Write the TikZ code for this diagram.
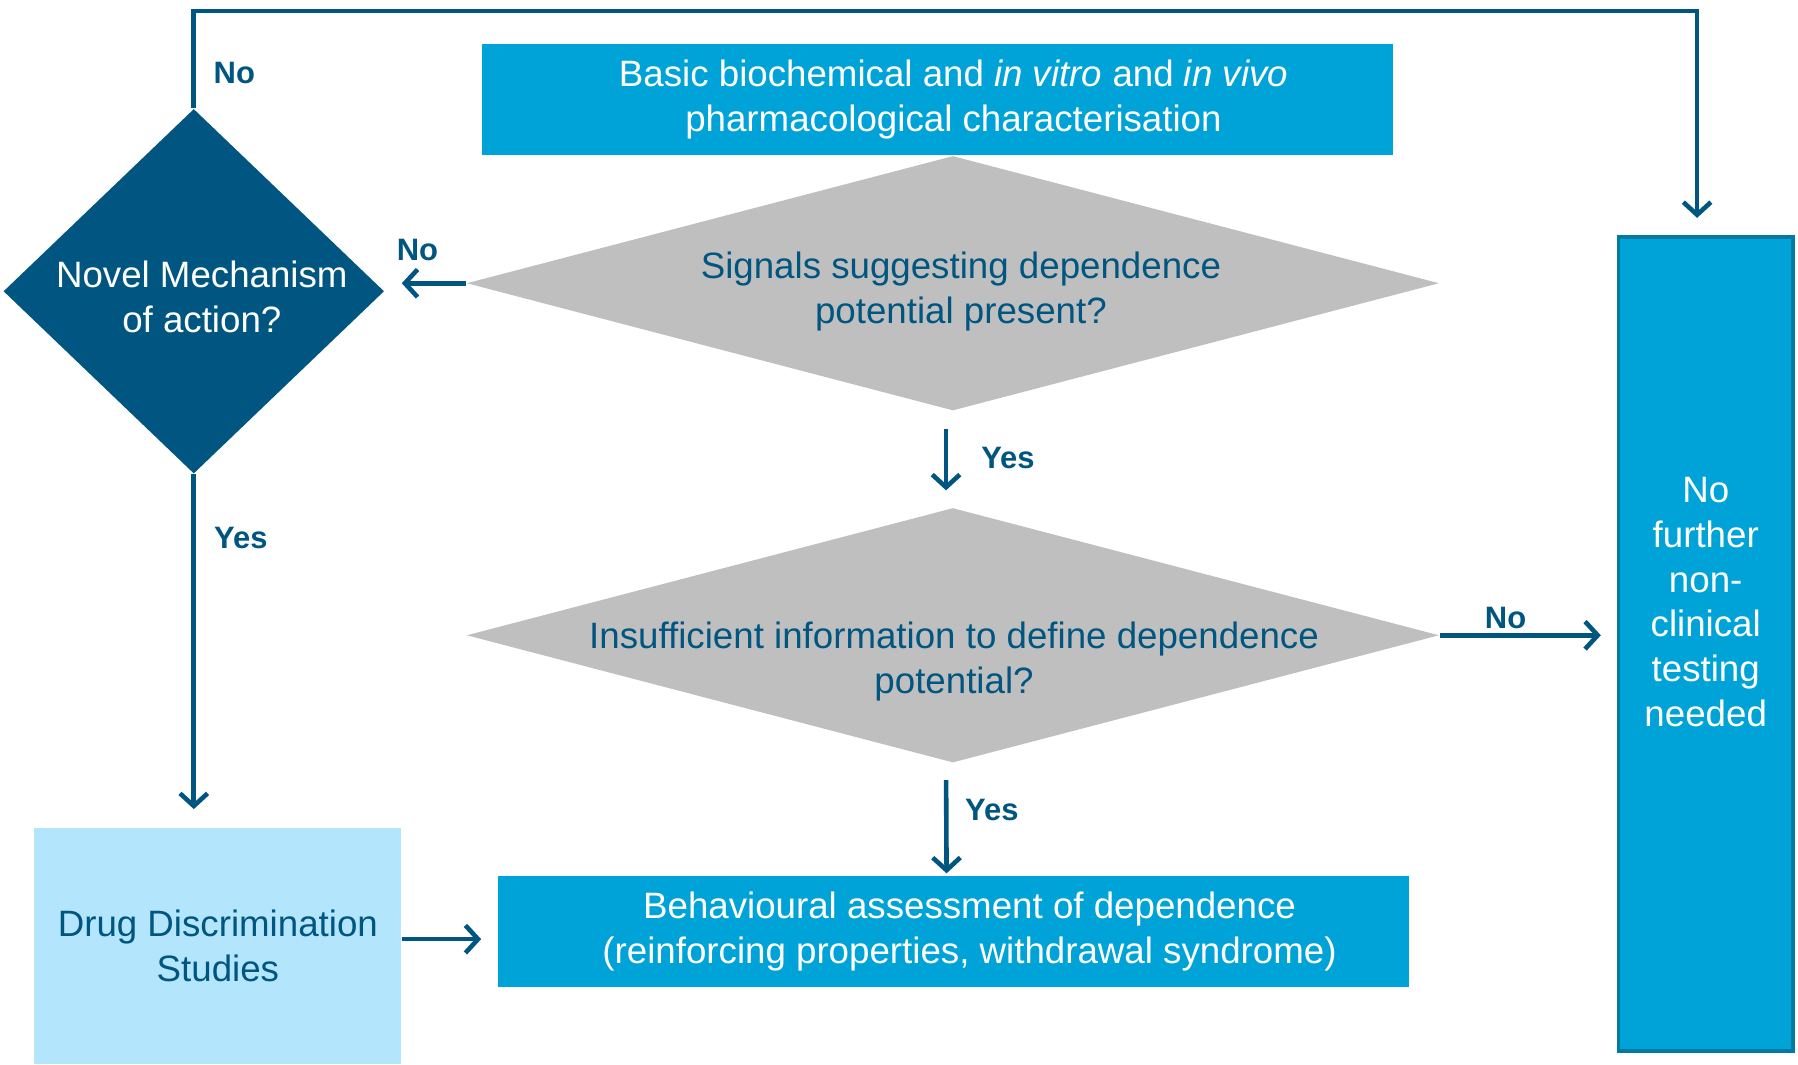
\documentclass[tikz,border=0pt]{standalone}
\usepackage{fontspec}
\setmainfont{Liberation Sans}
\usetikzlibrary{shapes.geometric,arrows.meta}

\definecolor{darkblue}{RGB}{0,86,128}
\definecolor{boxcyan}{RGB}{0,163,215}
\definecolor{boxedge}{RGB}{0,121,163}
\definecolor{decgrey}{RGB}{191,191,191}
\definecolor{lightblue}{RGB}{179,229,252}

\tikzset{
  flow/.style={draw=darkblue, line width=2pt, -{Straight Barb[length=5.5pt,width=12pt]}},
  answer/.style={font=\fontsize{13.5}{16}\selectfont\bfseries, text=darkblue, inner sep=0pt},
  cyanbox/.style={rectangle, fill=boxcyan, text=white, align=center, inner sep=0pt},
  greydec/.style={diamond, fill=decgrey, inner sep=0pt},
  qtext/.style={align=center, text=darkblue, inner sep=0pt}
}

\begin{document}
\begin{tikzpicture}[x=0.5pt, y=-0.5pt,
                    every node/.append style={font=\fontsize{16}{19.5}\selectfont}
]
\useasboundingbox (0,0) rectangle (1568,928);

\node [cyanbox, minimum width=397.5pt, minimum height=48.5pt] at (817.5,86.5) (basic)
  {\hspace*{14pt}Basic biochemical and \textit{in vitro} and \textit{in vivo}\\ \hspace*{14pt}pharmacological characterisation};
\node [greydec, minimum width=424pt, minimum height=111pt] at (831,247) (sig) {};
\node [qtext] at (838,254) (sigtext) {Signals suggesting dependence\\ potential present?};
\node [greydec, minimum width=424pt, minimum height=111pt] at (831,554) (ins) {};
\node [qtext] at (832,577) (instext) {Insufficient information to define dependence\\ potential?};
\node [cyanbox, minimum width=397.5pt, minimum height=48.5pt] at (831.5,812.5) (beh)
  {\hspace*{14pt}Behavioural assessment of dependence\\ \hspace*{14pt}(reinforcing properties, withdrawal syndrome)};
%
\node [diamond, fill=darkblue, inner sep=0pt, minimum width=166pt, minimum height=159pt] at (169,254) (novel) {};
\node [align=center, text=white, inner sep=0pt] at (176,259) (noveltext) {Novel Mechanism\\ of action?};
\node [rectangle, fill=lightblue, text=darkblue, align=center, inner sep=0pt,
       minimum width=160pt, minimum height=103pt] at (190,825) (drug) {Drug Discrimination\\ Studies};
%
\node [cyanbox, draw=boxedge, line width=1.5pt, minimum width=76pt, minimum height=355pt] at (1487.5,561.5) (nofurther) {};
\node [align=center, text=white, inner sep=0pt] at (1487.5,525) (nofurthertext) {No\\ further\\ non-\\ clinical\\ testing\\ needed};
%
\draw[flow] (novel.north) -- ++(0,-85) -| ([shift={(-7.5,-15)}]nofurther.north);
\draw[flow, shorten >=7.5pt] (sig.west) -- (sig.west -| novel.east);
\draw[flow, shorten <=8pt, shorten >=7.5pt] ([xshift=-3pt]sig.south) -- ([xshift=-3pt]ins.north);
\draw[flow, shorten >=7pt] (ins.east) -- (ins.east -| nofurther.west);
\draw[flow, shorten <=7.5pt, shorten >=1pt] ([xshift=-3pt]ins.south) -- ([xshift=-3pt]beh.north);
\draw[flow, shorten >=8pt] (novel.south) -- (novel.south |- drug.north);
\draw[flow, shorten >=7pt] ([yshift=3pt]drug.east) -- ([yshift=3pt]drug.east -| beh.west);
%
\node [answer, anchor=west] at (186,64) (nonovel) {No};
\node [answer] at (364,218) (nosig) {No};
\node [answer] at (879,399) (yessig) {Yes};
\node [answer] at (1313,539) (noins) {No};
\node [answer] at (865,706) (yesins) {Yes};
\node [answer] at (210,469) (yesnovel) {Yes};
\end{tikzpicture}
\end{document}
